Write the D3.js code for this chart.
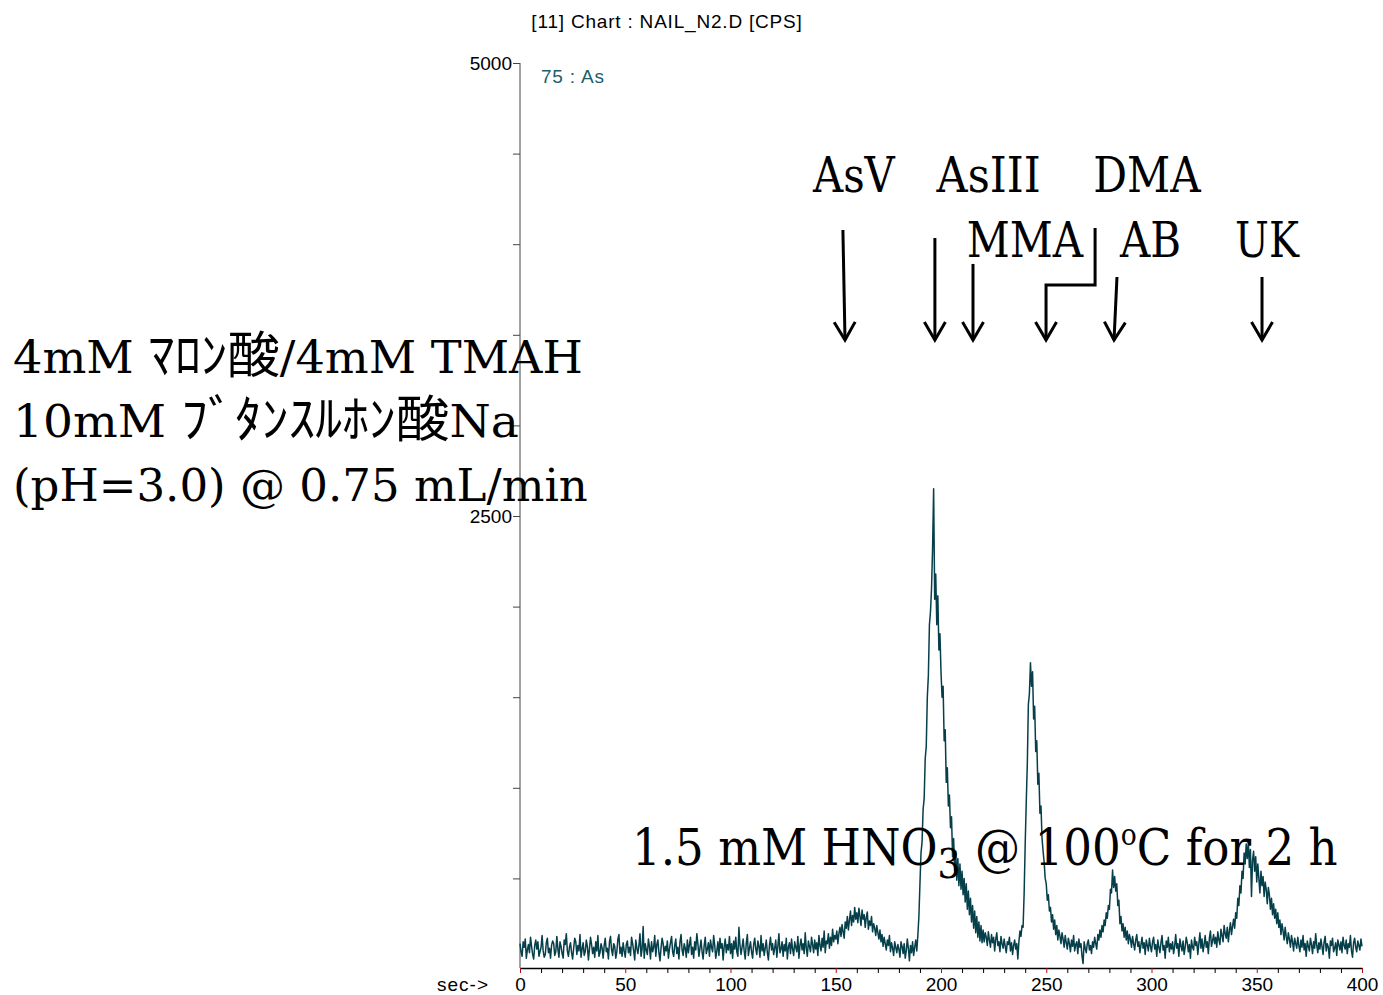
<!DOCTYPE html>
<html>
<head>
<meta charset="utf-8">
<script src="https://cdn.jsdelivr.net/npm/d3@7"></script>
<style>
body { margin: 0; background: #fff; }
svg { display: block; }
</style>
</head>
<body>
<svg id="chart" width="1383" height="995"></svg>
<script>
const WIDTH = 1383;
const HEIGHT = 995;
const PLOT_LEFT = 520, PLOT_RIGHT = 1362;
const PLOT_TOP = 63, PLOT_BOTTOM = 969;
const STEP = 0.5; // sampling interval of the trace, sec

// ---- data ----
var titleText = "[11] Chart : NAIL_N2.D [CPS]";
var traceName = "75 : As";
var xLabelTicks = [0, 50, 100, 150, 200, 250, 300, 350, 400];
var yTicks = [500, 1000, 1500, 2000, 2500, 3000, 3500, 4000, 4500, 5000];
var yLabelTicks = [2500, 5000];

// counts per second (75 : As), one value every 0.5 s from 0 to 400 s
var counts = [
  140, 95, 70, 150, 120, 165, 60, 105, 135, 90, 175, 125, 80, 55, 130, 160, 110, 150, 70, 95,
  120, 185, 100, 65, 80, 145, 170, 90, 115, 60, 130, 155, 140, 75, 95, 180, 110, 65, 150, 125,
  85, 60, 160, 135, 195, 100, 70, 120, 145, 90, 55, 115, 170, 150, 80, 130, 100, 190, 65, 110,
  145, 75, 95, 160, 125, 50, 110, 175, 135, 85, 120, 65, 150, 100, 185, 70, 90, 140, 115, 60,
  130, 170, 95, 115, 55, 150, 180, 105, 75, 140, 125, 60, 95, 165, 190, 85, 120, 70, 145, 100,
  65, 135, 155, 90, 120, 75, 175, 140, 100, 50, 160, 115, 85, 130, 195, 70, 110, 235, 60, 140,
  105, 80, 165, 125, 55, 150, 95, 120, 185, 70, 135, 160, 90, 45, 115, 170, 140, 75, 125, 100,
  155, 60, 110, 145, 180, 95, 70, 130, 165, 85, 120, 55, 150, 190, 105, 75, 140, 115, 65, 160,
  90, 135, 175, 80, 120, 60, 150, 105, 195, 140, 70, 115, 160, 95, 55, 130, 175, 85, 110, 145,
  70, 160, 120, 95, 185, 130, 60, 100, 150, 75, 170, 115, 140, 50, 125, 165, 90, 135, 105, 180,
  85, 140, 60, 155, 110, 175, 95, 70, 230, 130, 80, 120, 165, 100, 55, 145, 190, 75, 115, 150,
  95, 60, 135, 170, 110, 80, 155, 125, 65, 185, 100, 140, 75, 115, 160, 90, 50, 130, 175, 105,
  140, 80, 115, 160, 65, 125, 195, 90, 110, 150, 70, 135, 100, 170, 55, 120, 145, 85, 165, 110,
  75, 150, 120, 95, 180, 60, 130, 165, 105, 140, 85, 200, 115, 70, 155, 125, 95, 175, 135, 90,
  160, 110, 145, 75, 185, 130, 100, 170, 120, 210, 90, 155, 140, 195, 115, 175, 130, 220, 150, 185,
  165, 210, 140, 195, 230, 180, 245, 205, 170, 260, 225, 290, 215, 270, 320, 240, 295, 260, 340, 275,
  310, 255, 335, 290, 240, 325, 275, 300, 230, 285, 315, 220, 265, 240, 290, 205, 250, 225, 185, 240,
  200, 165, 215, 150, 190, 125, 175, 140, 105, 160, 130, 185, 95, 145, 115, 75, 150, 120, 90, 135,
  110, 65, 150, 125, 85, 140, 60, 100, 165, 115, 45, 130, 90, 150, 75, 120, 160, 100, 185, 290,
  470, 640, 700, 880, 940, 1160, 1230, 1500, 1620, 1900, 1970, 2100, 2320, 2650, 2040, 2180, 1900, 2060, 1760, 1850,
  1640, 1500, 1560, 1260, 1320, 1030, 1110, 900, 960, 780, 840, 620, 720, 540, 650, 490, 610, 460, 580, 440,
  540, 410, 500, 370, 470, 330, 430, 300, 390, 260, 350, 225, 320, 200, 290, 175, 260, 155, 240, 145,
  215, 150, 200, 175, 130, 205, 160, 120, 190, 145, 175, 100, 165, 200, 130, 150, 95, 180, 140, 115,
  165, 125, 90, 150, 135, 175, 100, 145, 80, 130, 160, 110, 140, 55, 150, 210, 180, 240, 230, 420,
  690, 920, 1130, 1460, 1520, 1690, 1560, 1640, 1380, 1450, 1200, 1260, 1020, 1080, 860, 900, 720, 650, 590, 500,
  470, 380, 410, 320, 340, 260, 300, 220, 270, 190, 240, 160, 215, 180, 140, 200, 165, 120, 185, 145,
  110, 170, 140, 95, 160, 125, 185, 100, 135, 150, 85, 165, 120, 140, 70, 30, 150, 115, 90, 140,
  160, 105, 130, 85, 150, 120, 175, 140, 110, 190, 160, 215, 175, 240, 205, 270, 240, 310, 280, 350,
  330, 440, 420, 546, 450, 510, 430, 470, 350, 380, 250, 290, 210, 250, 175, 230, 160, 210, 140, 190,
  165, 120, 180, 140, 105, 160, 190, 125, 150, 90, 135, 175, 115, 145, 80, 160, 130, 100, 170, 125,
  95, 150, 175, 110, 135, 70, 160, 120, 90, 145, 185, 105, 130, 60, 155, 120, 175, 95, 140, 110,
  150, 85, 125, 190, 115, 140, 70, 165, 130, 100, 155, 80, 120, 175, 145, 95, 135, 60, 160, 120,
  105, 175, 130, 150, 80, 140, 200, 115, 165, 95, 135, 185, 120, 150, 85, 170, 210, 125, 155, 190,
  140, 175, 120, 205, 160, 135, 220, 185, 150, 240, 195, 170, 230, 150, 210, 255, 190, 235, 275, 225,
  310, 280, 390, 350, 460, 420, 540, 500, 640, 580, 690, 610, 700, 560, 660, 400, 600, 650, 540, 620,
  480, 580, 500, 420, 540, 460, 510, 400, 480, 440, 360, 450, 410, 330, 390, 300, 360, 280, 330, 250,
  310, 230, 270, 190, 250, 210, 160, 230, 180, 140, 200, 165, 120, 185, 150, 100, 170, 140, 115, 175,
  130, 95, 160, 120, 185, 105, 140, 70, 155, 125, 100, 170, 135, 85, 150, 115, 195, 130, 90, 145,
  110, 165, 125, 80, 150, 180, 100, 140, 120, 60, 155, 130, 170, 95, 115, 145, 75, 160, 135, 105,
  150, 90, 175, 130, 110, 160, 85, 140, 120, 185, 100, 65, 145, 170, 120, 95, 155, 130, 105, 165,
  125
];

// species labels: name, label left edge (sec), label baseline (cps)
var speciesNames = ["AsV", "AsIII", "DMA", "MMA", "AB", "UK"];
var speciesLabelSec = [139.2, 197.9, 272.3, 212.2, 285.0, 339.7];
var speciesLabelCps = [4288, 4288, 4288, 3931, 3931, 3931];

// arrows, in [sec, cps] points, last point is the tip
var speciesArrows = [
  [[153.4, 4078], [154.4, 3471]],
  [[197.1, 4034], [197.1, 3471]],
  [[215.2, 3891], [215.2, 3471]],
  [[273.2, 4089], [273.2, 3775], [249.9, 3775], [249.9, 3471]],
  [[283.6, 3819], [282.2, 3471]],
  [[352.5, 3819], [352.5, 3471]]
];

var conditionLines = [
  "4mM ﾏﾛﾝ酸/4mM TMAH",
  "10mM ﾌﾞﾀﾝｽﾙﾎﾝ酸Na",
  "(pH=3.0) @ 0.75 mL/min"
];

// ---- drawing ----
var svg = d3.select("#chart");

var xScale = d3.scaleLinear().domain([0, 400]).range([PLOT_LEFT, PLOT_RIGHT]);
var yScale = d3.scaleLinear().domain([0, 5000]).range([PLOT_BOTTOM, PLOT_TOP]);

var SANS = "'Liberation Sans', Arial, sans-serif";
var SERIF = "'DejaVu Serif', 'Liberation Serif', serif";
var CJK = "'Noto Sans CJK JP', sans-serif";

// squeeze/stretch a text horizontally so it spans the given width
var fitWidth = function (sel, width) {
  sel.each(function () {
    var x0 = +d3.select(this).attr("x");
    var k = width / this.getBBox().width;
    d3.select(this).attr("transform",
      "translate(" + x0 + ",0) scale(" + k + ",1) translate(" + (-x0) + ",0)");
  });
};

// title
svg.append("text")
  .attr("x", 667).attr("y", 28)
  .attr("text-anchor", "middle")
  .style("font-family", SANS).style("font-size", "19px").style("letter-spacing", "0.8px")
  .text(titleText);

svg.append("text")
  .attr("x", 541).attr("y", 83)
  .style("font-family", SANS).style("font-size", "19px").style("letter-spacing", "0.8px")
  .attr("fill", "#1d5d69")
  .text(traceName);

// y axis
var yAxis = d3.axisLeft(yScale)
  .tickValues(yTicks)
  .tickSize(7).tickSizeOuter(0).tickPadding(1)
  .tickFormat(function (d) { return yLabelTicks.indexOf(d) >= 0 ? d : ""; });

var gy = svg.append("g")
  .attr("transform", "translate(" + PLOT_LEFT + ",0)")
  .call(yAxis);
gy.select(".domain").attr("stroke", "#444").attr("d", "M0," + PLOT_TOP + "V" + (PLOT_BOTTOM - 1));
gy.selectAll("line").attr("stroke", "#444");
gy.selectAll("text").style("font-family", SANS).style("font-size", "19px").attr("fill", "#000");

// x axis
var xAxis = d3.axisBottom(xScale)
  .tickValues(d3.range(0, 401, 10))
  .tickSize(5).tickSizeOuter(0).tickPadding(5)
  .tickFormat(function (d) { return xLabelTicks.indexOf(d) >= 0 ? d : ""; });

var gx = svg.append("g")
  .attr("transform", "translate(0," + (PLOT_BOTTOM - 1) + ")")
  .call(xAxis);
gx.select(".domain").attr("stroke", "#000").attr("stroke-width", 1.5);
gx.selectAll(".tick line")
  .attr("stroke", function (d) { return xLabelTicks.indexOf(d) >= 0 ? "#b01010" : "#000"; });
gx.selectAll("text").style("font-family", SANS).style("font-size", "19px").attr("fill", "#000");

svg.append("text")
  .attr("x", 437).attr("y", 991)
  .style("font-family", SANS).style("font-size", "19px").style("letter-spacing", "1px")
  .text("sec->");

// trace
var line = d3.line()
  .x(function (d, i) { return xScale(i * STEP); })
  .y(function (d) { return yScale(d); });

svg.append("path")
  .attr("d", line(counts))
  .attr("fill", "none")
  .attr("stroke", "#053f4a")
  .attr("stroke-width", 1.5)
  .attr("stroke-linejoin", "round");

// condition text, left
var cjkRe = /([\u3000-\u9fff\uff00-\uffef]+)/;
var condWidths = [570, 506, 575];
conditionLines.forEach(function (s, i) {
  var t = svg.append("text")
    .attr("x", 13).attr("y", 373 + i * 64)
    .style("font-family", SERIF).style("font-size", "44px").attr("fill", "#000");
  s.split(cjkRe).filter(function (p) { return p.length; }).forEach(function (p) {
    var span = t.append("tspan").text(p);
    if (cjkRe.test(p)) span.style("font-family", CJK).style("font-size", "50px");
  });
  fitWidth(t, condWidths[i]);
});

// acid digestion text, bottom
var dig = svg.append("text")
  .attr("x", 632).attr("y", 865)
  .style("font-family", SERIF).style("font-size", "51px").attr("fill", "#000");
dig.append("tspan").text("1.5 mM HNO");
dig.append("tspan").attr("dy", 13).style("font-size", "41px").text("3");
dig.append("tspan").attr("dy", -13).text(" @ 100");
dig.append("tspan").attr("dy", -20).style("font-size", "30px").text("o");
dig.append("tspan").attr("dy", 20).text("C for 2 h");
fitWidth(dig, 706);

// species labels
var labelWidths = [84, 105, 108, 117, 62, 65];
speciesNames.forEach(function (n, i) {
  var t = svg.append("text")
    .attr("x", xScale(speciesLabelSec[i]))
    .attr("y", yScale(speciesLabelCps[i]))
    .style("font-family", SERIF).style("font-size", "49px").attr("fill", "#000")
    .text(n);
  fitWidth(t, labelWidths[i]);
});

// arrows
svg.append("defs").append("marker")
  .attr("id", "head")
  .attr("markerUnits", "userSpaceOnUse")
  .attr("viewBox", "-2 -13 24 26")
  .attr("markerWidth", 24).attr("markerHeight", 26)
  .attr("refX", 19).attr("refY", 0)
  .attr("orient", "auto")
  .append("path")
  .attr("d", "M1,-10.5L19,0L1,10.5")
  .attr("fill", "none").attr("stroke", "#000").attr("stroke-width", 3);

var arrowLine = d3.line()
  .x(function (d) { return xScale(d[0]); })
  .y(function (d) { return yScale(d[1]); });

svg.selectAll("path.arrow")
  .data(speciesArrows)
  .enter().append("path")
  .attr("class", "arrow")
  .attr("d", arrowLine)
  .attr("fill", "none")
  .attr("stroke", "#000")
  .attr("stroke-width", 3)
  .attr("marker-end", "url(#head)");
</script>
</body>
</html>
